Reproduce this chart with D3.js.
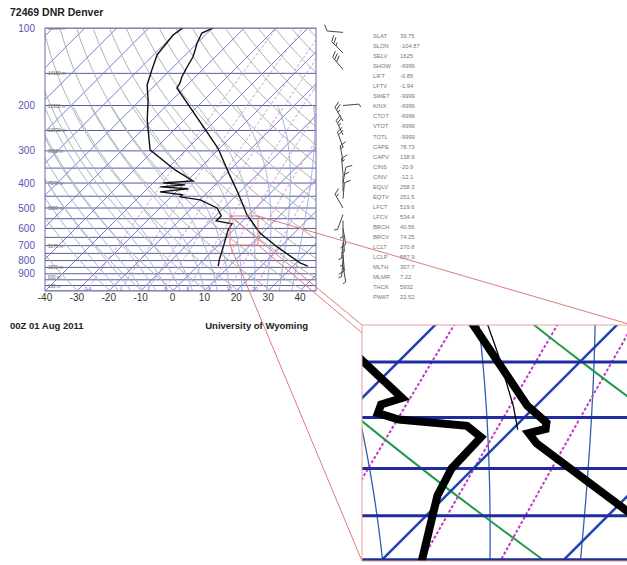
<!DOCTYPE html>
<meta charset="utf-8">
<style>
  body { margin: 0; background: #fff; }
  text { font-family: "Liberation Sans", Arial, sans-serif; }
</style>
<body>
<svg id="chart" width="627" height="565"></svg>
<script src="https://d3js.org/d3.v7.min.js"></script>
<script>
// sounding: pressure (hPa), temperature / dewpoint (C)
var tempP = [840, 817, 708, 625, 532, 437, 362, 292.6, 171, 163.5, 155, 141.7, 129.6, 121.7, 114.3, 104.6, 100];
var tempT = [34.6, 31.2, 19.0, 9.2, -0.5, -10.2, -19.9, -30.6, -62.3, -62.9, -64.2, -65.7, -67.0, -68.5, -70.1, -71.7, -69.8];
var dewP = [840, 795, 697, 609, 576, 561, 536, 499.6, 465, 452.6, 444, 433, 421, 414, 406.7, 399.5, 392.6, 355.7, 297.4, 227.4, 190.2, 166.4, 145.6, 127.2, 116.4, 106.5, 100];
var dewT = [6.5, 4.9, 1.7, -1.7, -2.4, -8.3, -8.3, -12.1, -19.9, -27.1, -27.1, -35, -27.1, -36.5, -29.3, -36.9, -28.1, -37.2, -51.3, -61.6, -67.6, -72.6, -75.8, -78.9, -79.5, -80.1, -79.2];

// detail shown in the enlarged panel
var zoomTempP = [484, 520, 589, 605, 611, 615, 625, 700, 781];
var zoomTempT = [-2.0, 2.2, 9.5, 11.5, 11.8, 11.1, 12.1, 21.4, 30.2];
var zoomDewP = [520, 548.5, 582, 588, 596, 602, 608, 619, 650, 678, 753, 795];
var zoomDewT = [-5.9, -2.1, 2.2, 1.4, 1.7, 3.2, 7.3, 8.7, 8.8, 9.5, 12.3, 13.8];
var zoomThinP = [508.6, 520.2, 542, 589.9, 611.6];
var zoomThinT = [1.9, 3.0, 4.95, 8.8, 10.3];

// wind barbs
var windP = [104, 125, 145, 200, 230, 260, 290, 330, 370, 400, 430, 460, 500, 530, 560, 600, 640, 680, 720, 760, 800, 840];
var windDir = [275, 315, 320, 85, 330, 335, 340, 350, 355, 10, 0, 5, 330, 200, 180, 170, 175, 185, 180, 175, 185, 170];
var windKt = [10, 25, 30, 5, 25, 25, 20, 15, 15, 10, 10, 10, 15, 5, 5, 10, 5, 5, 5, 10, 5, 5];

// chart furniture
var isobars = d3.range(100, 1051, 50);
var isotherms = d3.range(-130, 50, 10);
var dryTheta = d3.range(240, 470, 10);
var moistT1000 = d3.range(-20, 40, 4);
var mixRatios = [0.4, 1, 2, 3, 5, 8, 12, 20];
var tempTicks = [-40, -30, -20, -10, 0, 10, 20, 30, 40];
var pressTicks = [100, 200, 300, 400, 500, 600, 700, 800, 900];
var heightP = [100, 150, 200, 250, 300, 400, 500, 700, 850, 925, 1000];
var heightLbl = ["16590 m", "14180 m", "12380 m", "10930 m", "9660 m", "7570 m", "5880 m", "3170 m", "1530 m", "830 m", "130 m"];

var zoomIsotherms = [-10, 0, 10, 20, 30];
var zoomTheta = [317, 336];
var zoomMoistP = [519, 519, 614];
var zoomMoistT = [2.4, 8.8, 1.9];
var zoomMix = [8, 12, 16];

var statLabels = ["SLAT", "SLON", "SELV", "SHOW", "LIFT", "LFTV", "SWET", "KINX", "CTOT", "VTOT", "TOTL", "CAPE", "CAPV", "CINS", "CINV", "EQLV", "EQTV", "LFCT", "LFCV", "BRCH", "BRCV", "LCLT", "LCLP", "MLTH", "MLMR", "THCK", "PWAT"];
var statValues = ["39.75", "-104.87", "1625", "-9999", "-0.85", "-1.94", "-9999", "-9999", "-9999", "-9999", "-9999", "78.73", "138.9", "-20.9", "-12.1", "258.3", "251.5", "519.6", "534.4", "40.56", "74.25", "270.8", "587.9", "307.7", "7.22", "5932", "22.52"];

var svg = d3.select("#chart");

// main skew-T scales
var x = d3.scaleLinear().domain([-40, 45]).range([45, 316]),
    y = d3.scaleLog().domain([1050, 100]).range([291, 28]);

// enlarged panel: same geometry, magnified around (238.5, 212.2)
var Z = 5.7, zx0 = 238.5, zy0 = 212.2, box = {x: 362, y: 325, w: 270, h: 236};
var xz = d3.scaleLinear().domain([-40, 45]).range([box.x + Z * (45 - zx0), box.x + Z * (316 - zx0)]),
    yz = d3.scaleLog().domain([1050, 100]).range([box.y + Z * (291 - zy0), box.y + Z * (28 - zy0)]);

function skew(xs, ys) {
  return function(T, p) { return xs(T) + (ys(1050) - ys(p)); };
}
function pathFor(xs, ys) {
  var sx = skew(xs, ys);
  return d3.line().x(function(d) { return sx(d[1], d[0]); }).y(function(d) { return ys(d[0]); });
}

var pgrid = d3.range(0, 81).map(function(i) { return 1050 * Math.pow(100 / 1050, i / 80); });
function dryT(theta, p) { return theta * Math.pow(p / 1000, 0.2857) - 273.15; }
function mixT(w, p) { var e = w * p / (622 + w), l = Math.log(e / 6.112); return 243.5 * l / (17.67 - l); }
function moistCurve(p0, T0, pTop, pBot) {
  var Rd = 287.04, cp = 1005.7, Lv = 2.501e6, eps = 0.622, h = 0.01;
  function rate(T, p) {
    var tc = T - 273.15, es = 6.112 * Math.exp(17.67 * tc / (tc + 243.5)), rs = eps * es / (p - es);
    return (Rd * T + Lv * rs) / (cp + Lv * Lv * rs * eps / (Rd * T * T));
  }
  var up = [], down = [], T = T0 + 273.15, lp = Math.log(p0);
  while (Math.exp(lp) > pTop) { up.push([Math.exp(lp), T - 273.15]); T -= rate(T, Math.exp(lp)) * h; lp -= h; }
  T = T0 + 273.15; lp = Math.log(p0);
  while (Math.exp(lp) < pBot) { T += rate(T, Math.exp(lp)) * h; lp += h; down.push([Math.exp(lp), T - 273.15]); }
  return down.reverse().concat(up);
}

// ---------- main chart ----------
svg.append("clipPath").attr("id", "clipMain").append("rect")
  .attr("x", 45).attr("y", 28).attr("width", 271).attr("height", 263);
var main = svg.append("g").attr("clip-path", "url(#clipMain)");
var line = pathFor(x, y);

main.selectAll(".isobar").data(isobars).enter().append("line")
  .attr("x1", 45).attr("x2", 316).attr("y1", function(d) { return y(d); }).attr("y2", function(d) { return y(d); })
  .attr("stroke", "#5a5a9c").attr("stroke-width", 1);
main.selectAll(".isotherm").data(isotherms).enter().append("path")
  .attr("d", function(t) { return line([[1050, t], [100, t]]); })
  .attr("stroke", "#7c7cc8").attr("stroke-width", 1).attr("fill", "none");
main.selectAll(".dry").data(dryTheta).enter().append("path")
  .attr("d", function(th) { return line(pgrid.map(function(p) { return [p, dryT(th, p)]; })); })
  .attr("stroke", "#a3b8a3").attr("stroke-width", 1).attr("fill", "none");
main.selectAll(".moist").data(moistT1000).enter().append("path")
  .attr("d", function(t) { return line(moistCurve(1000, t, 200, 1050)); })
  .attr("stroke", "#9aaedc").attr("stroke-width", 1).attr("fill", "none");
main.selectAll(".mix").data(mixRatios).enter().append("path")
  .attr("d", function(w) { return line(pgrid.map(function(p) { return [p, mixT(w, p)]; })); })
  .attr("stroke", "#d494d4").attr("stroke-width", 1).attr("stroke-dasharray", "3,2").attr("fill", "none");

var sxMain = skew(x, y);
main.selectAll(".mixlbl").data(mixRatios).enter().append("text")
  .attr("x", function(w) { return sxMain(mixT(w, 1030), 1030); }).attr("y", y(1030) + 2)
  .attr("text-anchor", "middle").attr("font-size", 5).attr("fill", "#8a5cc0")
  .text(function(w) { return w; });

main.selectAll(".hgt").data(heightP).enter().append("text")
  .attr("x", 48).attr("y", function(p) { return y(p) + 2; })
  .attr("font-size", 4.5).attr("fill", "#666")
  .text(function(p, i) { return heightLbl[i]; });

main.append("path").attr("d", line(dewP.map(function(p, i) { return [p, dewT[i]]; })))
  .attr("stroke", "#111").attr("stroke-width", 1.4).attr("fill", "none");
main.append("path").attr("d", line(tempP.map(function(p, i) { return [p, tempT[i]]; })))
  .attr("stroke", "#111").attr("stroke-width", 1.4).attr("fill", "none");

svg.append("rect").attr("x", 45).attr("y", 28).attr("width", 271).attr("height", 263)
  .attr("fill", "none").attr("stroke", "#6a6aa8").attr("stroke-width", 1);

svg.selectAll(".ptick").data(pressTicks).enter().append("text")
  .attr("x", 35).attr("y", function(p) { return y(p) + 3.5; })
  .attr("text-anchor", "end").attr("font-size", 10).attr("fill", "#5656b4")
  .text(function(p) { return p; });
svg.selectAll(".ttick").data(tempTicks).enter().append("text")
  .attr("x", function(t) { return x(t); }).attr("y", 301)
  .attr("text-anchor", "middle").attr("font-size", 10).attr("fill", "#333")
  .text(function(t) { return t; });

svg.append("text").attr("x", 10).attr("y", 16).attr("font-size", 10.5).attr("font-weight", "bold")
  .attr("fill", "#222").text("72469 DNR Denver");
svg.append("text").attr("x", 10).attr("y", 329).attr("font-size", 9.5).attr("font-weight", "bold")
  .attr("fill", "#222").text("00Z 01 Aug 2011");
svg.append("text").attr("x", 308).attr("y", 329).attr("font-size", 9.5).attr("font-weight", "bold")
  .attr("text-anchor", "end").attr("fill", "#222").text("University of Wyoming");

// ---------- wind barbs ----------
var barbs = svg.append("g").attr("stroke", "#444").attr("stroke-width", 1).attr("fill", "none");
windP.forEach(function(p, i) {
  var a = windDir[i] * Math.PI / 180, L = 16, bx = 343, by = y(p);
  var ux = Math.sin(a), uy = -Math.cos(a);
  var tx = bx + ux * L, ty = by + uy * L;
  barbs.append("line").attr("x1", bx).attr("y1", by).attr("x2", tx).attr("y2", ty);
  var s = windKt[i], k = 0;
  var px = -uy, py = ux;
  while (s >= 10) {
    var sx = tx - ux * k * 3, sy = ty - uy * k * 3;
    barbs.append("line").attr("x1", sx).attr("y1", sy)
      .attr("x2", sx + px * 6 + ux * 3).attr("y2", sy + py * 6 + uy * 3);
    s -= 10; k++;
  }
  if (s >= 5) {
    var hx = tx - ux * k * 3, hy = ty - uy * k * 3;
    barbs.append("line").attr("x1", hx).attr("y1", hy)
      .attr("x2", hx + px * 3 + ux * 1.5).attr("y2", hy + py * 3 + uy * 1.5);
  }
});

// ---------- station stats ----------
svg.selectAll(".slbl").data(statLabels).enter().append("text")
  .attr("x", 373).attr("y", function(d, i) { return 38 + i * 10.05; })
  .attr("font-size", 5.8).attr("fill", "#777").text(function(d) { return d; });
svg.selectAll(".sval").data(statValues).enter().append("text")
  .attr("x", 400).attr("y", function(d, i) { return 38 + i * 10.05; })
  .attr("font-size", 5.8).attr("fill", "#777").text(function(d) { return d; });

// ---------- zoom connectors ----------
var src = {x0: 230, y0: 216, x1: 258, y1: 245};
var conn = svg.append("g").attr("stroke", "#e07a7a").attr("stroke-width", 1).attr("fill", "none");
conn.append("rect").attr("x", src.x0).attr("y", src.y0).attr("width", src.x1 - src.x0).attr("height", src.y1 - src.y0);
[[src.x0, src.y0, box.x, box.y], [src.x1, src.y0, box.x + box.w, box.y],
 [src.x0, src.y1, box.x, box.y + box.h], [src.x1, src.y1, box.x + box.w, box.y + box.h]].forEach(function(c) {
  conn.append("line").attr("x1", c[0]).attr("y1", c[1]).attr("x2", c[2]).attr("y2", c[3]);
});

// ---------- enlarged panel ----------
svg.append("clipPath").attr("id", "clipZoom").append("rect")
  .attr("x", box.x).attr("y", box.y).attr("width", box.w).attr("height", box.h);
svg.append("rect").attr("x", box.x).attr("y", box.y).attr("width", box.w).attr("height", box.h).attr("fill", "#fff");
var zg = svg.append("g").attr("clip-path", "url(#clipZoom)");
var zline = pathFor(xz, yz);

zg.selectAll(".zmoist").data(zoomMoistP).enter().append("path")
  .attr("d", function(p, i) { return zline(moistCurve(p, zoomMoistT[i], 400, 900)); })
  .attr("stroke", "#2f5fb0").attr("stroke-width", 1.3).attr("fill", "none");
zg.selectAll(".zmix").data(zoomMix).enter().append("path")
  .attr("d", function(w) { return zline(pgrid.map(function(p) { return [p, mixT(w, p)]; })); })
  .attr("stroke", "#c03cc8").attr("stroke-width", 2).attr("stroke-dasharray", "3,2").attr("fill", "none");
zg.selectAll(".zdry").data(zoomTheta).enter().append("path")
  .attr("d", function(th) { return zline(pgrid.map(function(p) { return [p, dryT(th, p)]; })); })
  .attr("stroke", "#229a4a").attr("stroke-width", 2).attr("fill", "none");
zg.selectAll(".ziso").data(zoomIsotherms).enter().append("path")
  .attr("d", function(t) { return zline([[1050, t], [100, t]]); })
  .attr("stroke", "#2242b4").attr("stroke-width", 2.5).attr("fill", "none");
zg.selectAll(".zbar").data(isobars).enter().append("line")
  .attr("x1", box.x).attr("x2", box.x + box.w).attr("y1", function(d) { return yz(d); }).attr("y2", function(d) { return yz(d); })
  .attr("stroke", "#1e2c9c").attr("stroke-width", 3);

zg.append("path").attr("d", zline(zoomThinP.map(function(p, i) { return [p, zoomThinT[i]]; })))
  .attr("stroke", "#000").attr("stroke-width", 1.3).attr("fill", "none");
zg.append("path").attr("d", zline(zoomDewP.map(function(p, i) { return [p, zoomDewT[i]]; })))
  .attr("stroke", "#000").attr("stroke-width", 8).attr("stroke-linejoin", "miter").attr("fill", "none");
zg.append("path").attr("d", zline(zoomTempP.map(function(p, i) { return [p, zoomTempT[i]]; })))
  .attr("stroke", "#000").attr("stroke-width", 8).attr("stroke-linejoin", "miter").attr("fill", "none");

svg.append("rect").attr("x", box.x).attr("y", box.y).attr("width", box.w).attr("height", box.h)
  .attr("fill", "none").attr("stroke", "#e8a0a0").attr("stroke-width", 1);
</script>
</body>
